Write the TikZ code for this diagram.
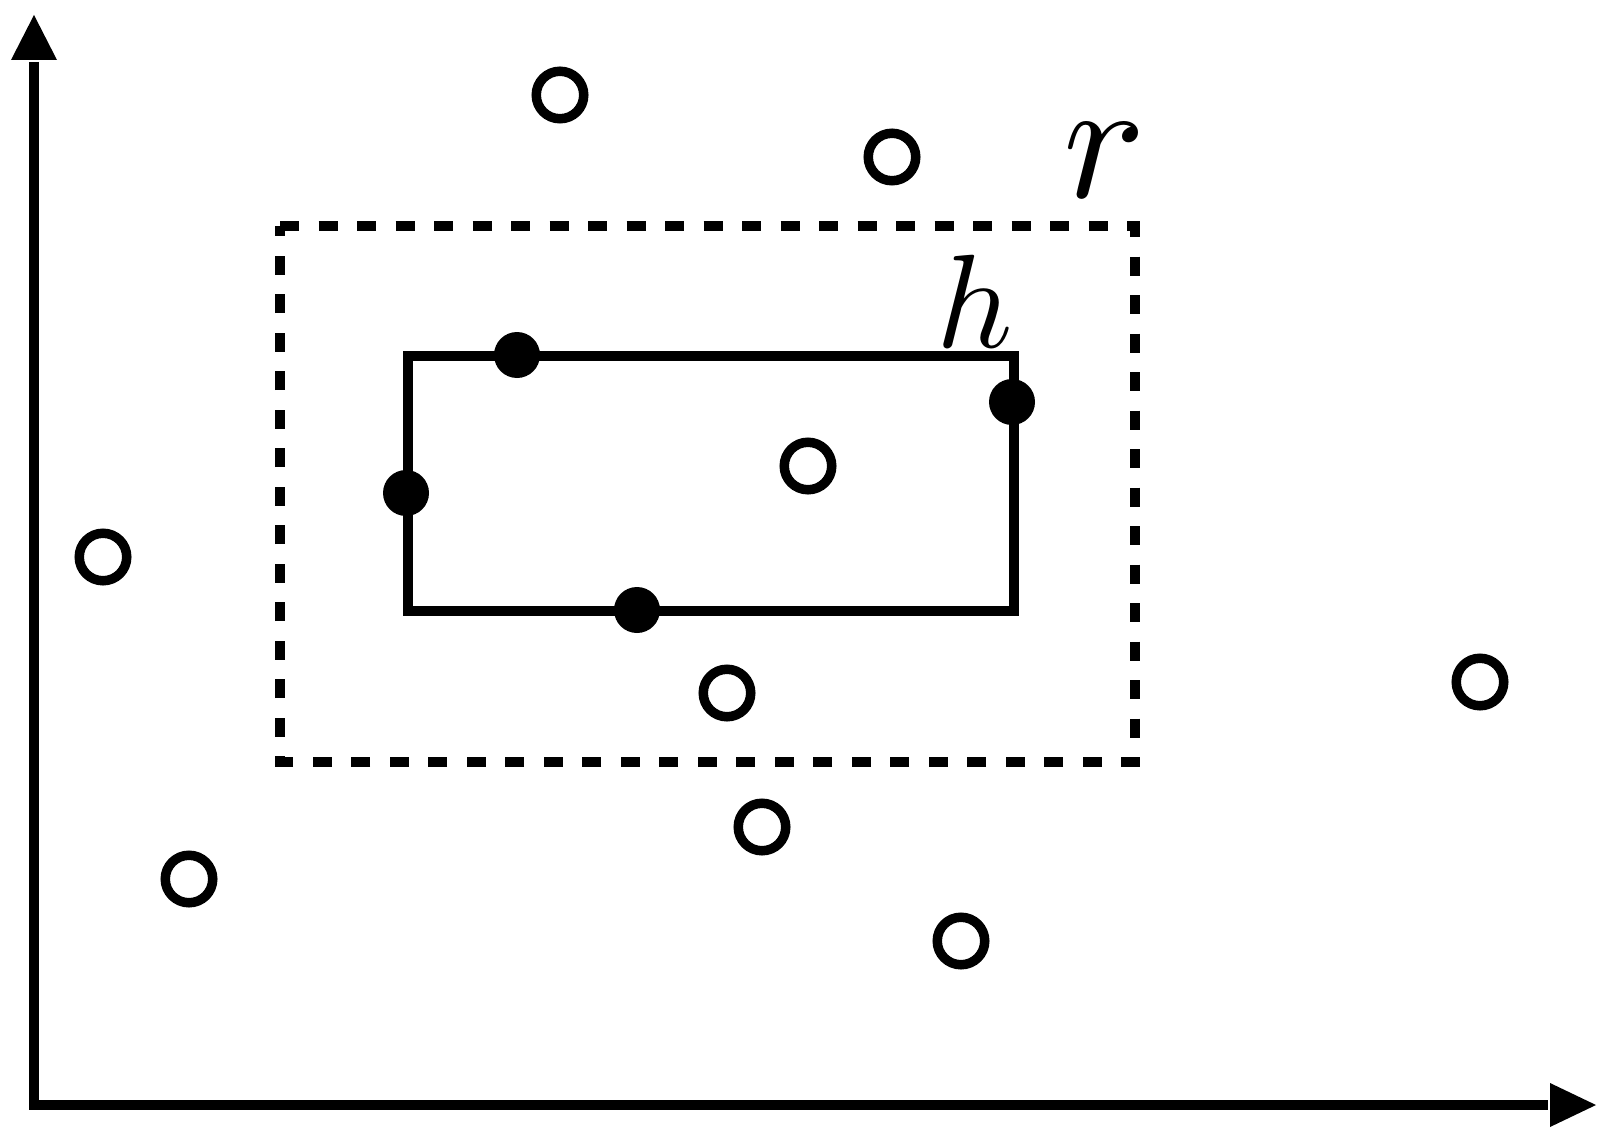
\documentclass[tikz,border=0pt]{standalone}
\usepackage{graphicx}
\begin{document}
\begin{tikzpicture}[x=1pt,y=-1pt,
  axisline/.style={line width=10pt, line join=miter},
  tipfill/.style={fill=black},
  solidbox/.style={line width=10pt, line join=miter},
  dashbox/.style={line width=10pt, dash pattern=on 19pt off 19.5pt},
  opendot/.style={circle, draw=black, line width=9.5pt, minimum size=47.5pt, inner sep=0pt, fill=white},
  filldot/.style={circle, fill=black, minimum size=46pt, inner sep=0pt},
  biglabel/.style={inner sep=0pt, anchor=base west}]
\useasboundingbox (0,0) rectangle (1614,1142);
% axes
\coordinate (ytip) at (34,15);
\coordinate (ybase) at (34,62);
\coordinate (orig) at (34,1105);
\coordinate (xbase) at (1548,1105);
\coordinate (xtip) at (1596,1105);
\draw[axisline] (ybase) -- (orig) -- (xbase);
\fill[tipfill] (ytip) -- (11,60) -- (57,60) -- cycle;
\fill[tipfill] (xtip) -- (1550,1083) -- (1550,1127) -- cycle;
% dashed rectangle r
\coordinate (rtl) at (280,226);
\coordinate (rtr) at (1135,226);
\coordinate (rbr) at (1135,762);
\coordinate (rbl) at (280,762);
\draw[dashbox] (rtl) -- (rtr) -- (rbr) -- (rbl) -- cycle;
% solid rectangle h
\coordinate (htl) at (408,356);
\coordinate (hbr) at (1014,611);
\draw[solidbox] (htl) rectangle (hbr);
% labels
\node[biglabel] (rlab) at (1063,197) {\scalebox{17.2}{$r$}};
\node[biglabel] (hlab) at (936,347) {\scalebox{13.3}{$h$}};
% filled dots
\node[filldot] (f1) at (517,355) {};
\node[filldot] (f2) at (406,493) {};
\node[filldot] (f3) at (637,610) {};
\node[filldot] (f4) at (1012,402) {};
% open dots
\node[opendot] (o1) at (560,95) {};
\node[opendot] (o2) at (892,157) {};
\node[opendot] (o3) at (808,466) {};
\node[opendot] (o4) at (103,557) {};
\node[opendot] (o5) at (727,693) {};
\node[opendot] (o6) at (1480,682) {};
\node[opendot] (o7) at (762,827) {};
\node[opendot] (o8) at (189,879) {};
\node[opendot] (o9) at (961,941) {};
\end{tikzpicture}
\end{document}
